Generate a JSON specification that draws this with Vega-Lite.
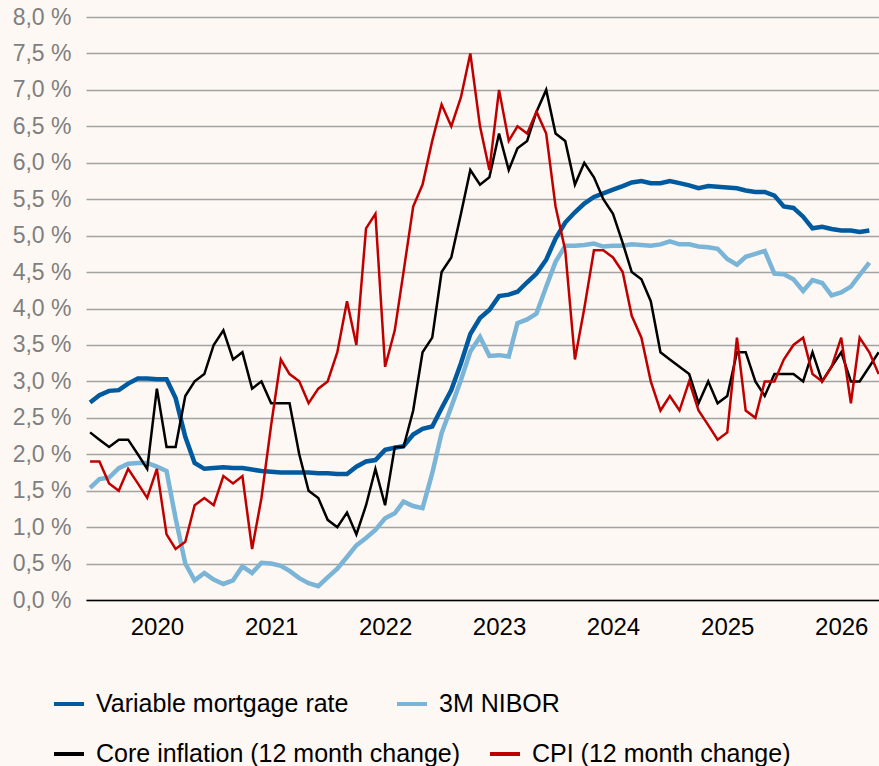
{
  "$schema": "https://vega.github.io/schema/vega-lite/v6.json",
  "width": 793,
  "height": 583,
  "autosize": {"type": "none"},
  "padding": {"left": 86, "top": 17, "right": 0, "bottom": 166},
  "background": "#fdf8f3",
  "config": {"view": {"stroke": null}, "font": "Liberation Sans"},
  "datasets": {
    "rates": [
      {"month":"2019-06-01","series":"Variable mortgage rate","value":2.71},
      {"month":"2019-07-01","series":"Variable mortgage rate","value":2.81},
      {"month":"2019-08-01","series":"Variable mortgage rate","value":2.87},
      {"month":"2019-09-01","series":"Variable mortgage rate","value":2.88},
      {"month":"2019-10-01","series":"Variable mortgage rate","value":2.97},
      {"month":"2019-11-01","series":"Variable mortgage rate","value":3.04},
      {"month":"2019-12-01","series":"Variable mortgage rate","value":3.04},
      {"month":"2020-01-01","series":"Variable mortgage rate","value":3.03},
      {"month":"2020-02-01","series":"Variable mortgage rate","value":3.03},
      {"month":"2020-03-01","series":"Variable mortgage rate","value":2.77},
      {"month":"2020-04-01","series":"Variable mortgage rate","value":2.24},
      {"month":"2020-05-01","series":"Variable mortgage rate","value":1.88},
      {"month":"2020-06-01","series":"Variable mortgage rate","value":1.80},
      {"month":"2020-07-01","series":"Variable mortgage rate","value":1.81},
      {"month":"2020-08-01","series":"Variable mortgage rate","value":1.82},
      {"month":"2020-09-01","series":"Variable mortgage rate","value":1.81},
      {"month":"2020-10-01","series":"Variable mortgage rate","value":1.81},
      {"month":"2020-11-01","series":"Variable mortgage rate","value":1.79},
      {"month":"2020-12-01","series":"Variable mortgage rate","value":1.77},
      {"month":"2021-01-01","series":"Variable mortgage rate","value":1.76},
      {"month":"2021-02-01","series":"Variable mortgage rate","value":1.75},
      {"month":"2021-03-01","series":"Variable mortgage rate","value":1.75},
      {"month":"2021-04-01","series":"Variable mortgage rate","value":1.75},
      {"month":"2021-05-01","series":"Variable mortgage rate","value":1.75},
      {"month":"2021-06-01","series":"Variable mortgage rate","value":1.74},
      {"month":"2021-07-01","series":"Variable mortgage rate","value":1.74},
      {"month":"2021-08-01","series":"Variable mortgage rate","value":1.73},
      {"month":"2021-09-01","series":"Variable mortgage rate","value":1.73},
      {"month":"2021-10-01","series":"Variable mortgage rate","value":1.83},
      {"month":"2021-11-01","series":"Variable mortgage rate","value":1.90},
      {"month":"2021-12-01","series":"Variable mortgage rate","value":1.92},
      {"month":"2022-01-01","series":"Variable mortgage rate","value":2.06},
      {"month":"2022-02-01","series":"Variable mortgage rate","value":2.09},
      {"month":"2022-03-01","series":"Variable mortgage rate","value":2.11},
      {"month":"2022-04-01","series":"Variable mortgage rate","value":2.27},
      {"month":"2022-05-01","series":"Variable mortgage rate","value":2.35},
      {"month":"2022-06-01","series":"Variable mortgage rate","value":2.38},
      {"month":"2022-07-01","series":"Variable mortgage rate","value":2.63},
      {"month":"2022-08-01","series":"Variable mortgage rate","value":2.88},
      {"month":"2022-09-01","series":"Variable mortgage rate","value":3.25},
      {"month":"2022-10-01","series":"Variable mortgage rate","value":3.65},
      {"month":"2022-11-01","series":"Variable mortgage rate","value":3.87},
      {"month":"2022-12-01","series":"Variable mortgage rate","value":3.98},
      {"month":"2023-01-01","series":"Variable mortgage rate","value":4.17},
      {"month":"2023-02-01","series":"Variable mortgage rate","value":4.19},
      {"month":"2023-03-01","series":"Variable mortgage rate","value":4.23},
      {"month":"2023-04-01","series":"Variable mortgage rate","value":4.36},
      {"month":"2023-05-01","series":"Variable mortgage rate","value":4.48},
      {"month":"2023-06-01","series":"Variable mortgage rate","value":4.67},
      {"month":"2023-07-01","series":"Variable mortgage rate","value":4.96},
      {"month":"2023-08-01","series":"Variable mortgage rate","value":5.18},
      {"month":"2023-09-01","series":"Variable mortgage rate","value":5.32},
      {"month":"2023-10-01","series":"Variable mortgage rate","value":5.44},
      {"month":"2023-11-01","series":"Variable mortgage rate","value":5.53},
      {"month":"2023-12-01","series":"Variable mortgage rate","value":5.58},
      {"month":"2024-01-01","series":"Variable mortgage rate","value":5.63},
      {"month":"2024-02-01","series":"Variable mortgage rate","value":5.68},
      {"month":"2024-03-01","series":"Variable mortgage rate","value":5.73},
      {"month":"2024-04-01","series":"Variable mortgage rate","value":5.75},
      {"month":"2024-05-01","series":"Variable mortgage rate","value":5.72},
      {"month":"2024-06-01","series":"Variable mortgage rate","value":5.72},
      {"month":"2024-07-01","series":"Variable mortgage rate","value":5.75},
      {"month":"2024-08-01","series":"Variable mortgage rate","value":5.72},
      {"month":"2024-09-01","series":"Variable mortgage rate","value":5.69},
      {"month":"2024-10-01","series":"Variable mortgage rate","value":5.65},
      {"month":"2024-11-01","series":"Variable mortgage rate","value":5.68},
      {"month":"2024-12-01","series":"Variable mortgage rate","value":5.67},
      {"month":"2025-01-01","series":"Variable mortgage rate","value":5.66},
      {"month":"2025-02-01","series":"Variable mortgage rate","value":5.65},
      {"month":"2025-03-01","series":"Variable mortgage rate","value":5.62},
      {"month":"2025-04-01","series":"Variable mortgage rate","value":5.60},
      {"month":"2025-05-01","series":"Variable mortgage rate","value":5.60},
      {"month":"2025-06-01","series":"Variable mortgage rate","value":5.55},
      {"month":"2025-07-01","series":"Variable mortgage rate","value":5.40},
      {"month":"2025-08-01","series":"Variable mortgage rate","value":5.38},
      {"month":"2025-09-01","series":"Variable mortgage rate","value":5.26},
      {"month":"2025-10-01","series":"Variable mortgage rate","value":5.10},
      {"month":"2025-11-01","series":"Variable mortgage rate","value":5.12},
      {"month":"2025-12-01","series":"Variable mortgage rate","value":5.09},
      {"month":"2026-01-01","series":"Variable mortgage rate","value":5.07},
      {"month":"2026-02-01","series":"Variable mortgage rate","value":5.07},
      {"month":"2026-03-01","series":"Variable mortgage rate","value":5.05},
      {"month":"2026-04-01","series":"Variable mortgage rate","value":5.07},

      {"month":"2019-06-01","series":"3M NIBOR","value":1.54},
      {"month":"2019-07-01","series":"3M NIBOR","value":1.66},
      {"month":"2019-08-01","series":"3M NIBOR","value":1.68},
      {"month":"2019-09-01","series":"3M NIBOR","value":1.81},
      {"month":"2019-10-01","series":"3M NIBOR","value":1.87},
      {"month":"2019-11-01","series":"3M NIBOR","value":1.88},
      {"month":"2019-12-01","series":"3M NIBOR","value":1.88},
      {"month":"2020-01-01","series":"3M NIBOR","value":1.83},
      {"month":"2020-02-01","series":"3M NIBOR","value":1.77},
      {"month":"2020-03-01","series":"3M NIBOR","value":1.12},
      {"month":"2020-04-01","series":"3M NIBOR","value":0.50},
      {"month":"2020-05-01","series":"3M NIBOR","value":0.27},
      {"month":"2020-06-01","series":"3M NIBOR","value":0.37},
      {"month":"2020-07-01","series":"3M NIBOR","value":0.28},
      {"month":"2020-08-01","series":"3M NIBOR","value":0.22},
      {"month":"2020-09-01","series":"3M NIBOR","value":0.27},
      {"month":"2020-10-01","series":"3M NIBOR","value":0.46},
      {"month":"2020-11-01","series":"3M NIBOR","value":0.37},
      {"month":"2020-12-01","series":"3M NIBOR","value":0.51},
      {"month":"2021-01-01","series":"3M NIBOR","value":0.50},
      {"month":"2021-02-01","series":"3M NIBOR","value":0.47},
      {"month":"2021-03-01","series":"3M NIBOR","value":0.40},
      {"month":"2021-04-01","series":"3M NIBOR","value":0.30},
      {"month":"2021-05-01","series":"3M NIBOR","value":0.23},
      {"month":"2021-06-01","series":"3M NIBOR","value":0.19},
      {"month":"2021-07-01","series":"3M NIBOR","value":0.31},
      {"month":"2021-08-01","series":"3M NIBOR","value":0.43},
      {"month":"2021-09-01","series":"3M NIBOR","value":0.59},
      {"month":"2021-10-01","series":"3M NIBOR","value":0.75},
      {"month":"2021-11-01","series":"3M NIBOR","value":0.85},
      {"month":"2021-12-01","series":"3M NIBOR","value":0.96},
      {"month":"2022-01-01","series":"3M NIBOR","value":1.12},
      {"month":"2022-02-01","series":"3M NIBOR","value":1.19},
      {"month":"2022-03-01","series":"3M NIBOR","value":1.35},
      {"month":"2022-04-01","series":"3M NIBOR","value":1.29},
      {"month":"2022-05-01","series":"3M NIBOR","value":1.26},
      {"month":"2022-06-01","series":"3M NIBOR","value":1.74},
      {"month":"2022-07-01","series":"3M NIBOR","value":2.29},
      {"month":"2022-08-01","series":"3M NIBOR","value":2.65},
      {"month":"2022-09-01","series":"3M NIBOR","value":3.02},
      {"month":"2022-10-01","series":"3M NIBOR","value":3.41},
      {"month":"2022-11-01","series":"3M NIBOR","value":3.61},
      {"month":"2022-12-01","series":"3M NIBOR","value":3.35},
      {"month":"2023-01-01","series":"3M NIBOR","value":3.36},
      {"month":"2023-02-01","series":"3M NIBOR","value":3.34},
      {"month":"2023-03-01","series":"3M NIBOR","value":3.80},
      {"month":"2023-04-01","series":"3M NIBOR","value":3.85},
      {"month":"2023-05-01","series":"3M NIBOR","value":3.93},
      {"month":"2023-06-01","series":"3M NIBOR","value":4.30},
      {"month":"2023-07-01","series":"3M NIBOR","value":4.64},
      {"month":"2023-08-01","series":"3M NIBOR","value":4.86},
      {"month":"2023-09-01","series":"3M NIBOR","value":4.86},
      {"month":"2023-10-01","series":"3M NIBOR","value":4.87},
      {"month":"2023-11-01","series":"3M NIBOR","value":4.89},
      {"month":"2023-12-01","series":"3M NIBOR","value":4.85},
      {"month":"2024-01-01","series":"3M NIBOR","value":4.86},
      {"month":"2024-02-01","series":"3M NIBOR","value":4.86},
      {"month":"2024-03-01","series":"3M NIBOR","value":4.88},
      {"month":"2024-04-01","series":"3M NIBOR","value":4.87},
      {"month":"2024-05-01","series":"3M NIBOR","value":4.86},
      {"month":"2024-06-01","series":"3M NIBOR","value":4.88},
      {"month":"2024-07-01","series":"3M NIBOR","value":4.92},
      {"month":"2024-08-01","series":"3M NIBOR","value":4.88},
      {"month":"2024-09-01","series":"3M NIBOR","value":4.88},
      {"month":"2024-10-01","series":"3M NIBOR","value":4.85},
      {"month":"2024-11-01","series":"3M NIBOR","value":4.84},
      {"month":"2024-12-01","series":"3M NIBOR","value":4.82},
      {"month":"2025-01-01","series":"3M NIBOR","value":4.68},
      {"month":"2025-02-01","series":"3M NIBOR","value":4.60},
      {"month":"2025-03-01","series":"3M NIBOR","value":4.71},
      {"month":"2025-04-01","series":"3M NIBOR","value":4.75},
      {"month":"2025-05-01","series":"3M NIBOR","value":4.79},
      {"month":"2025-06-01","series":"3M NIBOR","value":4.48},
      {"month":"2025-07-01","series":"3M NIBOR","value":4.47},
      {"month":"2025-08-01","series":"3M NIBOR","value":4.40},
      {"month":"2025-09-01","series":"3M NIBOR","value":4.24},
      {"month":"2025-10-01","series":"3M NIBOR","value":4.39},
      {"month":"2025-11-01","series":"3M NIBOR","value":4.35},
      {"month":"2025-12-01","series":"3M NIBOR","value":4.18},
      {"month":"2026-01-01","series":"3M NIBOR","value":4.22},
      {"month":"2026-02-01","series":"3M NIBOR","value":4.30},
      {"month":"2026-03-01","series":"3M NIBOR","value":4.46},
      {"month":"2026-04-01","series":"3M NIBOR","value":4.63},

      {"month":"2019-06-01","series":"Core inflation (12 month change)","value":2.3},
      {"month":"2019-07-01","series":"Core inflation (12 month change)","value":2.2},
      {"month":"2019-08-01","series":"Core inflation (12 month change)","value":2.1},
      {"month":"2019-09-01","series":"Core inflation (12 month change)","value":2.2},
      {"month":"2019-10-01","series":"Core inflation (12 month change)","value":2.2},
      {"month":"2019-11-01","series":"Core inflation (12 month change)","value":2.0},
      {"month":"2019-12-01","series":"Core inflation (12 month change)","value":1.8},
      {"month":"2020-01-01","series":"Core inflation (12 month change)","value":2.9},
      {"month":"2020-02-01","series":"Core inflation (12 month change)","value":2.1},
      {"month":"2020-03-01","series":"Core inflation (12 month change)","value":2.1},
      {"month":"2020-04-01","series":"Core inflation (12 month change)","value":2.8},
      {"month":"2020-05-01","series":"Core inflation (12 month change)","value":3.0},
      {"month":"2020-06-01","series":"Core inflation (12 month change)","value":3.1},
      {"month":"2020-07-01","series":"Core inflation (12 month change)","value":3.5},
      {"month":"2020-08-01","series":"Core inflation (12 month change)","value":3.7},
      {"month":"2020-09-01","series":"Core inflation (12 month change)","value":3.3},
      {"month":"2020-10-01","series":"Core inflation (12 month change)","value":3.4},
      {"month":"2020-11-01","series":"Core inflation (12 month change)","value":2.9},
      {"month":"2020-12-01","series":"Core inflation (12 month change)","value":3.0},
      {"month":"2021-01-01","series":"Core inflation (12 month change)","value":2.7},
      {"month":"2021-02-01","series":"Core inflation (12 month change)","value":2.7},
      {"month":"2021-03-01","series":"Core inflation (12 month change)","value":2.7},
      {"month":"2021-04-01","series":"Core inflation (12 month change)","value":2.0},
      {"month":"2021-05-01","series":"Core inflation (12 month change)","value":1.5},
      {"month":"2021-06-01","series":"Core inflation (12 month change)","value":1.4},
      {"month":"2021-07-01","series":"Core inflation (12 month change)","value":1.1},
      {"month":"2021-08-01","series":"Core inflation (12 month change)","value":1.0},
      {"month":"2021-09-01","series":"Core inflation (12 month change)","value":1.2},
      {"month":"2021-10-01","series":"Core inflation (12 month change)","value":0.9},
      {"month":"2021-11-01","series":"Core inflation (12 month change)","value":1.3},
      {"month":"2021-12-01","series":"Core inflation (12 month change)","value":1.8},
      {"month":"2022-01-01","series":"Core inflation (12 month change)","value":1.3},
      {"month":"2022-02-01","series":"Core inflation (12 month change)","value":2.1},
      {"month":"2022-03-01","series":"Core inflation (12 month change)","value":2.1},
      {"month":"2022-04-01","series":"Core inflation (12 month change)","value":2.6},
      {"month":"2022-05-01","series":"Core inflation (12 month change)","value":3.4},
      {"month":"2022-06-01","series":"Core inflation (12 month change)","value":3.6},
      {"month":"2022-07-01","series":"Core inflation (12 month change)","value":4.5},
      {"month":"2022-08-01","series":"Core inflation (12 month change)","value":4.7},
      {"month":"2022-09-01","series":"Core inflation (12 month change)","value":5.3},
      {"month":"2022-10-01","series":"Core inflation (12 month change)","value":5.9},
      {"month":"2022-11-01","series":"Core inflation (12 month change)","value":5.7},
      {"month":"2022-12-01","series":"Core inflation (12 month change)","value":5.8},
      {"month":"2023-01-01","series":"Core inflation (12 month change)","value":6.4},
      {"month":"2023-02-01","series":"Core inflation (12 month change)","value":5.9},
      {"month":"2023-03-01","series":"Core inflation (12 month change)","value":6.2},
      {"month":"2023-04-01","series":"Core inflation (12 month change)","value":6.3},
      {"month":"2023-05-01","series":"Core inflation (12 month change)","value":6.7},
      {"month":"2023-06-01","series":"Core inflation (12 month change)","value":7.0},
      {"month":"2023-07-01","series":"Core inflation (12 month change)","value":6.4},
      {"month":"2023-08-01","series":"Core inflation (12 month change)","value":6.3},
      {"month":"2023-09-01","series":"Core inflation (12 month change)","value":5.7},
      {"month":"2023-10-01","series":"Core inflation (12 month change)","value":6.0},
      {"month":"2023-11-01","series":"Core inflation (12 month change)","value":5.8},
      {"month":"2023-12-01","series":"Core inflation (12 month change)","value":5.5},
      {"month":"2024-01-01","series":"Core inflation (12 month change)","value":5.3},
      {"month":"2024-02-01","series":"Core inflation (12 month change)","value":4.9},
      {"month":"2024-03-01","series":"Core inflation (12 month change)","value":4.5},
      {"month":"2024-04-01","series":"Core inflation (12 month change)","value":4.4},
      {"month":"2024-05-01","series":"Core inflation (12 month change)","value":4.1},
      {"month":"2024-06-01","series":"Core inflation (12 month change)","value":3.4},
      {"month":"2024-07-01","series":"Core inflation (12 month change)","value":3.3},
      {"month":"2024-08-01","series":"Core inflation (12 month change)","value":3.2},
      {"month":"2024-09-01","series":"Core inflation (12 month change)","value":3.1},
      {"month":"2024-10-01","series":"Core inflation (12 month change)","value":2.7},
      {"month":"2024-11-01","series":"Core inflation (12 month change)","value":3.0},
      {"month":"2024-12-01","series":"Core inflation (12 month change)","value":2.7},
      {"month":"2025-01-01","series":"Core inflation (12 month change)","value":2.8},
      {"month":"2025-02-01","series":"Core inflation (12 month change)","value":3.4},
      {"month":"2025-03-01","series":"Core inflation (12 month change)","value":3.4},
      {"month":"2025-04-01","series":"Core inflation (12 month change)","value":3.0},
      {"month":"2025-05-01","series":"Core inflation (12 month change)","value":2.8},
      {"month":"2025-06-01","series":"Core inflation (12 month change)","value":3.1},
      {"month":"2025-07-01","series":"Core inflation (12 month change)","value":3.1},
      {"month":"2025-08-01","series":"Core inflation (12 month change)","value":3.1},
      {"month":"2025-09-01","series":"Core inflation (12 month change)","value":3.0},
      {"month":"2025-10-01","series":"Core inflation (12 month change)","value":3.4},
      {"month":"2025-11-01","series":"Core inflation (12 month change)","value":3.0},
      {"month":"2025-12-01","series":"Core inflation (12 month change)","value":3.2},
      {"month":"2026-01-01","series":"Core inflation (12 month change)","value":3.4},
      {"month":"2026-02-01","series":"Core inflation (12 month change)","value":3.0},
      {"month":"2026-03-01","series":"Core inflation (12 month change)","value":3.0},
      {"month":"2026-04-01","series":"Core inflation (12 month change)","value":3.2},
      {"month":"2026-05-01","series":"Core inflation (12 month change)","value":3.4},

      {"month":"2019-06-01","series":"CPI (12 month change)","value":1.9},
      {"month":"2019-07-01","series":"CPI (12 month change)","value":1.9},
      {"month":"2019-08-01","series":"CPI (12 month change)","value":1.6},
      {"month":"2019-09-01","series":"CPI (12 month change)","value":1.5},
      {"month":"2019-10-01","series":"CPI (12 month change)","value":1.8},
      {"month":"2019-11-01","series":"CPI (12 month change)","value":1.6},
      {"month":"2019-12-01","series":"CPI (12 month change)","value":1.4},
      {"month":"2020-01-01","series":"CPI (12 month change)","value":1.8},
      {"month":"2020-02-01","series":"CPI (12 month change)","value":0.9},
      {"month":"2020-03-01","series":"CPI (12 month change)","value":0.7},
      {"month":"2020-04-01","series":"CPI (12 month change)","value":0.8},
      {"month":"2020-05-01","series":"CPI (12 month change)","value":1.3},
      {"month":"2020-06-01","series":"CPI (12 month change)","value":1.4},
      {"month":"2020-07-01","series":"CPI (12 month change)","value":1.3},
      {"month":"2020-08-01","series":"CPI (12 month change)","value":1.7},
      {"month":"2020-09-01","series":"CPI (12 month change)","value":1.6},
      {"month":"2020-10-01","series":"CPI (12 month change)","value":1.7},
      {"month":"2020-11-01","series":"CPI (12 month change)","value":0.7},
      {"month":"2020-12-01","series":"CPI (12 month change)","value":1.4},
      {"month":"2021-01-01","series":"CPI (12 month change)","value":2.4},
      {"month":"2021-02-01","series":"CPI (12 month change)","value":3.3},
      {"month":"2021-03-01","series":"CPI (12 month change)","value":3.1},
      {"month":"2021-04-01","series":"CPI (12 month change)","value":3.0},
      {"month":"2021-05-01","series":"CPI (12 month change)","value":2.7},
      {"month":"2021-06-01","series":"CPI (12 month change)","value":2.9},
      {"month":"2021-07-01","series":"CPI (12 month change)","value":3.0},
      {"month":"2021-08-01","series":"CPI (12 month change)","value":3.4},
      {"month":"2021-09-01","series":"CPI (12 month change)","value":4.1},
      {"month":"2021-10-01","series":"CPI (12 month change)","value":3.5},
      {"month":"2021-11-01","series":"CPI (12 month change)","value":5.1},
      {"month":"2021-12-01","series":"CPI (12 month change)","value":5.3},
      {"month":"2022-01-01","series":"CPI (12 month change)","value":3.2},
      {"month":"2022-02-01","series":"CPI (12 month change)","value":3.7},
      {"month":"2022-03-01","series":"CPI (12 month change)","value":4.5},
      {"month":"2022-04-01","series":"CPI (12 month change)","value":5.4},
      {"month":"2022-05-01","series":"CPI (12 month change)","value":5.7},
      {"month":"2022-06-01","series":"CPI (12 month change)","value":6.3},
      {"month":"2022-07-01","series":"CPI (12 month change)","value":6.8},
      {"month":"2022-08-01","series":"CPI (12 month change)","value":6.5},
      {"month":"2022-09-01","series":"CPI (12 month change)","value":6.9},
      {"month":"2022-10-01","series":"CPI (12 month change)","value":7.5},
      {"month":"2022-11-01","series":"CPI (12 month change)","value":6.5},
      {"month":"2022-12-01","series":"CPI (12 month change)","value":5.9},
      {"month":"2023-01-01","series":"CPI (12 month change)","value":7.0},
      {"month":"2023-02-01","series":"CPI (12 month change)","value":6.3},
      {"month":"2023-03-01","series":"CPI (12 month change)","value":6.5},
      {"month":"2023-04-01","series":"CPI (12 month change)","value":6.4},
      {"month":"2023-05-01","series":"CPI (12 month change)","value":6.7},
      {"month":"2023-06-01","series":"CPI (12 month change)","value":6.4},
      {"month":"2023-07-01","series":"CPI (12 month change)","value":5.4},
      {"month":"2023-08-01","series":"CPI (12 month change)","value":4.8},
      {"month":"2023-09-01","series":"CPI (12 month change)","value":3.3},
      {"month":"2023-10-01","series":"CPI (12 month change)","value":4.0},
      {"month":"2023-11-01","series":"CPI (12 month change)","value":4.8},
      {"month":"2023-12-01","series":"CPI (12 month change)","value":4.8},
      {"month":"2024-01-01","series":"CPI (12 month change)","value":4.7},
      {"month":"2024-02-01","series":"CPI (12 month change)","value":4.5},
      {"month":"2024-03-01","series":"CPI (12 month change)","value":3.9},
      {"month":"2024-04-01","series":"CPI (12 month change)","value":3.6},
      {"month":"2024-05-01","series":"CPI (12 month change)","value":3.0},
      {"month":"2024-06-01","series":"CPI (12 month change)","value":2.6},
      {"month":"2024-07-01","series":"CPI (12 month change)","value":2.8},
      {"month":"2024-08-01","series":"CPI (12 month change)","value":2.6},
      {"month":"2024-09-01","series":"CPI (12 month change)","value":3.0},
      {"month":"2024-10-01","series":"CPI (12 month change)","value":2.6},
      {"month":"2024-11-01","series":"CPI (12 month change)","value":2.4},
      {"month":"2024-12-01","series":"CPI (12 month change)","value":2.2},
      {"month":"2025-01-01","series":"CPI (12 month change)","value":2.3},
      {"month":"2025-02-01","series":"CPI (12 month change)","value":3.6},
      {"month":"2025-03-01","series":"CPI (12 month change)","value":2.6},
      {"month":"2025-04-01","series":"CPI (12 month change)","value":2.5},
      {"month":"2025-05-01","series":"CPI (12 month change)","value":3.0},
      {"month":"2025-06-01","series":"CPI (12 month change)","value":3.0},
      {"month":"2025-07-01","series":"CPI (12 month change)","value":3.3},
      {"month":"2025-08-01","series":"CPI (12 month change)","value":3.5},
      {"month":"2025-09-01","series":"CPI (12 month change)","value":3.6},
      {"month":"2025-10-01","series":"CPI (12 month change)","value":3.1},
      {"month":"2025-11-01","series":"CPI (12 month change)","value":3.0},
      {"month":"2025-12-01","series":"CPI (12 month change)","value":3.2},
      {"month":"2026-01-01","series":"CPI (12 month change)","value":3.6},
      {"month":"2026-02-01","series":"CPI (12 month change)","value":2.7},
      {"month":"2026-03-01","series":"CPI (12 month change)","value":3.6},
      {"month":"2026-04-01","series":"CPI (12 month change)","value":3.4},
      {"month":"2026-05-01","series":"CPI (12 month change)","value":3.1}
    ]
  },
  "data": {"name": "rates"},
  "encoding": {
    "x": {
      "field": "month",
      "type": "temporal",
      "scale": {
        "type": "utc",
        "domain": [
          {"year": 2019, "month": 5, "date": 19, "utc": true},
          {"year": 2026, "month": 5, "date": 2, "utc": true}
        ]
      },
      "axis": {
        "title": null,
        "values": [
          {"year": 2020, "month": 1, "date": 1, "utc": true},
          {"year": 2021, "month": 1, "date": 1, "utc": true},
          {"year": 2022, "month": 1, "date": 1, "utc": true},
          {"year": 2023, "month": 1, "date": 1, "utc": true},
          {"year": 2024, "month": 1, "date": 1, "utc": true},
          {"year": 2025, "month": 1, "date": 1, "utc": true},
          {"year": 2026, "month": 1, "date": 1, "utc": true}
        ],
        "format": "%Y",
        "grid": false,
        "ticks": false,
        "domain": true,
        "domainColor": "#000000",
        "domainWidth": 1.5,
        "labelColor": "#000000",
        "labelFontSize": 24,
        "labelPadding": 15,
        "labelFlush": false,
        "labelOverlap": false
      }
    },
    "y": {
      "field": "value",
      "type": "quantitative",
      "scale": {"domain": [0, 8], "nice": false, "zero": true},
      "axis": {
        "title": null,
        "values": [0, 0.5, 1, 1.5, 2, 2.5, 3, 3.5, 4, 4.5, 5, 5.5, 6, 6.5, 7, 7.5, 8],
        "labelExpr": "replace(format(datum.value, '.1f'), '.', ',') + ' %'",
        "domain": false,
        "ticks": false,
        "grid": true,
        "gridColor": "#a3a3a3",
        "gridWidth": 1.3,
        "labelColor": "#7f7f7f",
        "labelFontSize": 23,
        "labelPadding": 15,
        "labelOverlap": false,
        "labelFlush": false
      }
    }
  },
  "layer": [
    {
      "transform": [{"filter": {"field": "series", "oneOf": ["Variable mortgage rate", "3M NIBOR"]}}],
      "mark": {"type": "line", "strokeWidth": 4.5, "clip": true},
      "encoding": {
        "color": {
          "field": "series",
          "type": "nominal",
          "scale": {"domain": ["Variable mortgage rate", "3M NIBOR"], "range": ["#005aa0", "#7ab4d6"]},
          "legend": {
            "title": null,
            "orient": "none",
            "legendX": -34,
            "legendY": 670,
            "direction": "horizontal",
            "columnPadding": 40,
            "padding": 0,
            "symbolType": "stroke",
            "symbolSize": 900,
            "symbolStrokeWidth": 4,
            "labelFontSize": 25,
            "labelColor": "#000000",
            "labelOffset": 10,
            "labelLimit": 1000
          }
        }
      }
    },
    {
      "transform": [{"filter": {"field": "series", "oneOf": ["Core inflation (12 month change)", "CPI (12 month change)"]}}],
      "mark": {"type": "line", "strokeWidth": 2.5, "clip": true},
      "encoding": {
        "color": {
          "field": "series",
          "type": "nominal",
          "scale": {"domain": ["Core inflation (12 month change)", "CPI (12 month change)"], "range": ["#000000", "#c00000"]},
          "legend": {
            "title": null,
            "orient": "none",
            "legendX": -34,
            "legendY": 720,
            "direction": "horizontal",
            "columnPadding": 21,
            "padding": 0,
            "symbolType": "stroke",
            "symbolSize": 900,
            "symbolStrokeWidth": 4,
            "labelFontSize": 25,
            "labelColor": "#000000",
            "labelOffset": 10,
            "labelLimit": 1000
          }
        }
      }
    }
  ],
  "resolve": {"scale": {"color": "independent"}, "legend": {"color": "independent"}}
}
